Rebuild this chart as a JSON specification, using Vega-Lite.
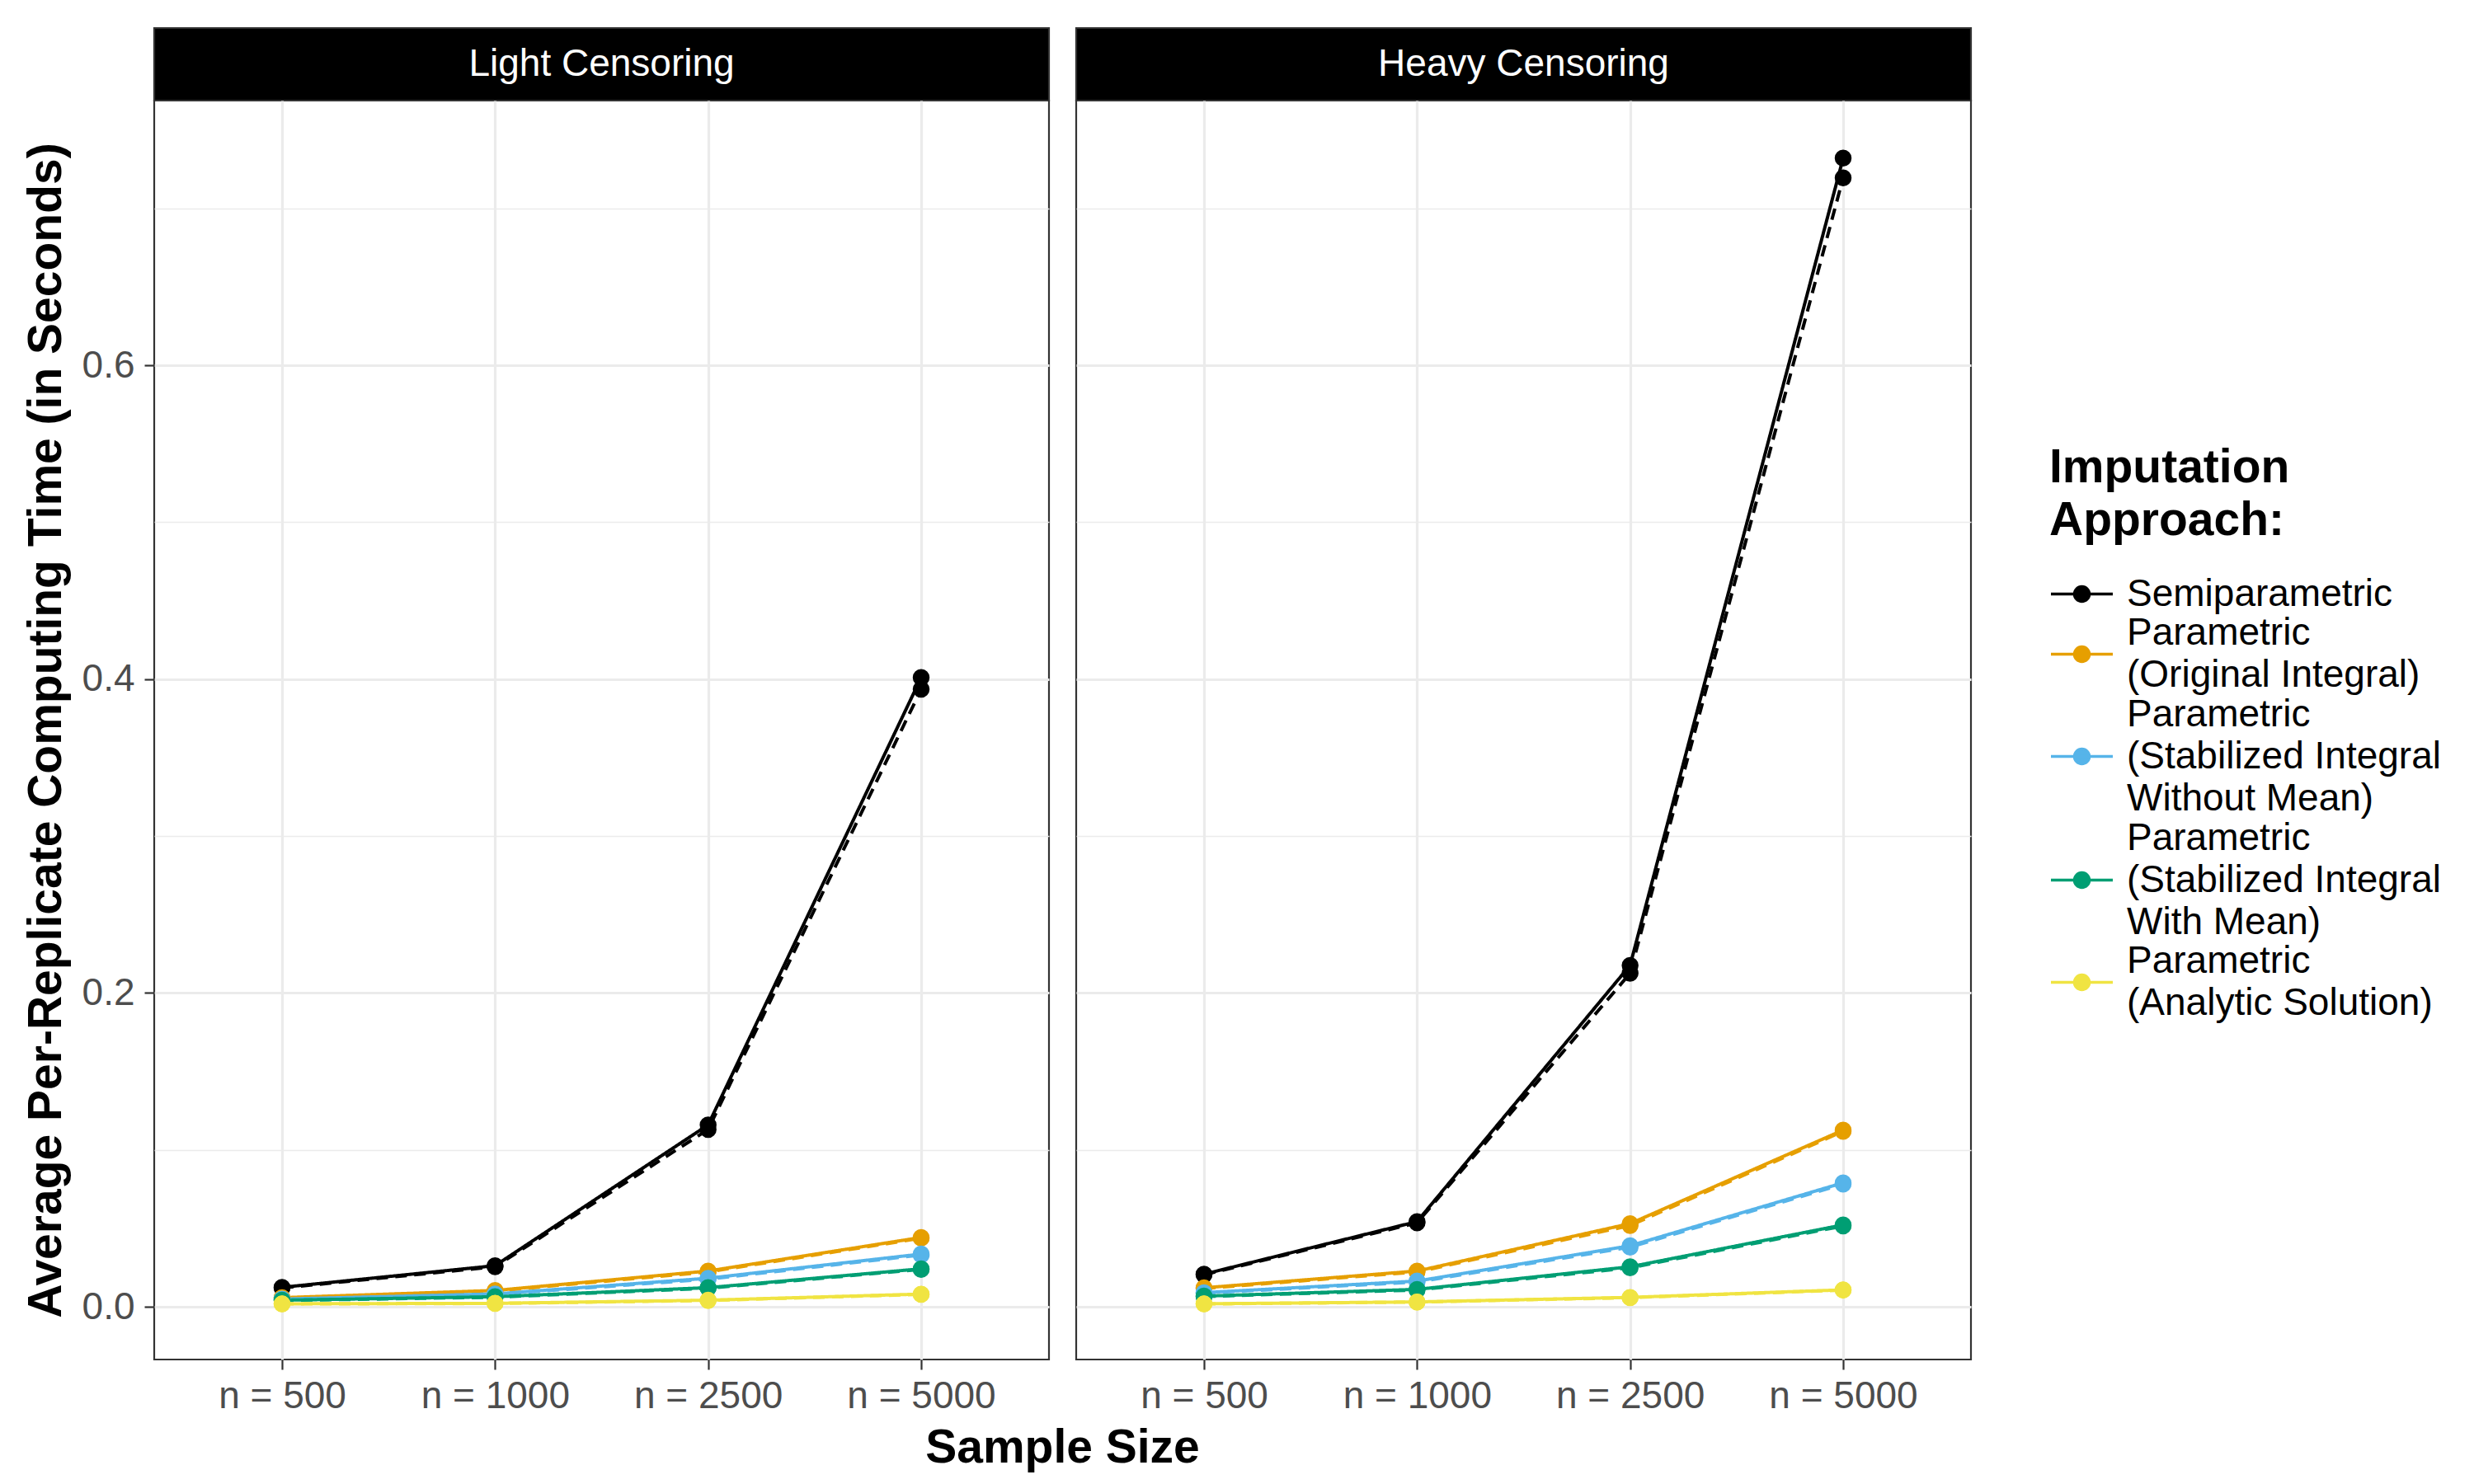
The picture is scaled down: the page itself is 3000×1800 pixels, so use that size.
{
  "$schema": "https://vega.github.io/schema/vega-lite/v6.json",
  "background": "white",
  "padding": {"left": 25, "top": 32, "right": 10, "bottom": 10},
  "datasets": {
    "times": [
      {"censoring": "Light Censoring", "approach": "Semiparametric", "run": "solid", "n": "n = 500", "time": 0.0124},
      {"censoring": "Light Censoring", "approach": "Semiparametric", "run": "solid", "n": "n = 1000", "time": 0.0262},
      {"censoring": "Light Censoring", "approach": "Semiparametric", "run": "solid", "n": "n = 2500", "time": 0.1159},
      {"censoring": "Light Censoring", "approach": "Semiparametric", "run": "solid", "n": "n = 5000", "time": 0.4010},
      {"censoring": "Light Censoring", "approach": "Semiparametric", "run": "dashed", "n": "n = 500", "time": 0.0120},
      {"censoring": "Light Censoring", "approach": "Semiparametric", "run": "dashed", "n": "n = 1000", "time": 0.0255},
      {"censoring": "Light Censoring", "approach": "Semiparametric", "run": "dashed", "n": "n = 2500", "time": 0.1130},
      {"censoring": "Light Censoring", "approach": "Semiparametric", "run": "dashed", "n": "n = 5000", "time": 0.3935},
      {"censoring": "Light Censoring", "approach": "Parametric\n(Original Integral)", "run": "solid", "n": "n = 500", "time": 0.0058},
      {"censoring": "Light Censoring", "approach": "Parametric\n(Original Integral)", "run": "solid", "n": "n = 1000", "time": 0.0104},
      {"censoring": "Light Censoring", "approach": "Parametric\n(Original Integral)", "run": "solid", "n": "n = 2500", "time": 0.0228},
      {"censoring": "Light Censoring", "approach": "Parametric\n(Original Integral)", "run": "solid", "n": "n = 5000", "time": 0.0442},
      {"censoring": "Light Censoring", "approach": "Parametric\n(Original Integral)", "run": "dashed", "n": "n = 500", "time": 0.0055},
      {"censoring": "Light Censoring", "approach": "Parametric\n(Original Integral)", "run": "dashed", "n": "n = 1000", "time": 0.0100},
      {"censoring": "Light Censoring", "approach": "Parametric\n(Original Integral)", "run": "dashed", "n": "n = 2500", "time": 0.0222},
      {"censoring": "Light Censoring", "approach": "Parametric\n(Original Integral)", "run": "dashed", "n": "n = 5000", "time": 0.0437},
      {"censoring": "Light Censoring", "approach": "Parametric\n(Stabilized Integral\nWithout Mean)", "run": "solid", "n": "n = 500", "time": 0.0049},
      {"censoring": "Light Censoring", "approach": "Parametric\n(Stabilized Integral\nWithout Mean)", "run": "solid", "n": "n = 1000", "time": 0.0082},
      {"censoring": "Light Censoring", "approach": "Parametric\n(Stabilized Integral\nWithout Mean)", "run": "solid", "n": "n = 2500", "time": 0.0182},
      {"censoring": "Light Censoring", "approach": "Parametric\n(Stabilized Integral\nWithout Mean)", "run": "solid", "n": "n = 5000", "time": 0.0336},
      {"censoring": "Light Censoring", "approach": "Parametric\n(Stabilized Integral\nWithout Mean)", "run": "dashed", "n": "n = 500", "time": 0.0047},
      {"censoring": "Light Censoring", "approach": "Parametric\n(Stabilized Integral\nWithout Mean)", "run": "dashed", "n": "n = 1000", "time": 0.0078},
      {"censoring": "Light Censoring", "approach": "Parametric\n(Stabilized Integral\nWithout Mean)", "run": "dashed", "n": "n = 2500", "time": 0.0176},
      {"censoring": "Light Censoring", "approach": "Parametric\n(Stabilized Integral\nWithout Mean)", "run": "dashed", "n": "n = 5000", "time": 0.0330},
      {"censoring": "Light Censoring", "approach": "Parametric\n(Stabilized Integral\n With Mean)", "run": "solid", "n": "n = 500", "time": 0.0042},
      {"censoring": "Light Censoring", "approach": "Parametric\n(Stabilized Integral\n With Mean)", "run": "solid", "n": "n = 1000", "time": 0.0064},
      {"censoring": "Light Censoring", "approach": "Parametric\n(Stabilized Integral\n With Mean)", "run": "solid", "n": "n = 2500", "time": 0.0122},
      {"censoring": "Light Censoring", "approach": "Parametric\n(Stabilized Integral\n With Mean)", "run": "solid", "n": "n = 5000", "time": 0.0242},
      {"censoring": "Light Censoring", "approach": "Parametric\n(Stabilized Integral\n With Mean)", "run": "dashed", "n": "n = 500", "time": 0.0040},
      {"censoring": "Light Censoring", "approach": "Parametric\n(Stabilized Integral\n With Mean)", "run": "dashed", "n": "n = 1000", "time": 0.0061},
      {"censoring": "Light Censoring", "approach": "Parametric\n(Stabilized Integral\n With Mean)", "run": "dashed", "n": "n = 2500", "time": 0.0118},
      {"censoring": "Light Censoring", "approach": "Parametric\n(Stabilized Integral\n With Mean)", "run": "dashed", "n": "n = 5000", "time": 0.0238},
      {"censoring": "Light Censoring", "approach": "Parametric\n(Analytic Solution)", "run": "solid", "n": "n = 500", "time": 0.0019},
      {"censoring": "Light Censoring", "approach": "Parametric\n(Analytic Solution)", "run": "solid", "n": "n = 1000", "time": 0.0022},
      {"censoring": "Light Censoring", "approach": "Parametric\n(Analytic Solution)", "run": "solid", "n": "n = 2500", "time": 0.0042},
      {"censoring": "Light Censoring", "approach": "Parametric\n(Analytic Solution)", "run": "solid", "n": "n = 5000", "time": 0.0081},
      {"censoring": "Light Censoring", "approach": "Parametric\n(Analytic Solution)", "run": "dashed", "n": "n = 500", "time": 0.0018},
      {"censoring": "Light Censoring", "approach": "Parametric\n(Analytic Solution)", "run": "dashed", "n": "n = 1000", "time": 0.0021},
      {"censoring": "Light Censoring", "approach": "Parametric\n(Analytic Solution)", "run": "dashed", "n": "n = 2500", "time": 0.0040},
      {"censoring": "Light Censoring", "approach": "Parametric\n(Analytic Solution)", "run": "dashed", "n": "n = 5000", "time": 0.0079},
      {"censoring": "Heavy Censoring", "approach": "Semiparametric", "run": "solid", "n": "n = 500", "time": 0.0208},
      {"censoring": "Heavy Censoring", "approach": "Semiparametric", "run": "solid", "n": "n = 1000", "time": 0.0543},
      {"censoring": "Heavy Censoring", "approach": "Semiparametric", "run": "solid", "n": "n = 2500", "time": 0.2176},
      {"censoring": "Heavy Censoring", "approach": "Semiparametric", "run": "solid", "n": "n = 5000", "time": 0.7320},
      {"censoring": "Heavy Censoring", "approach": "Semiparametric", "run": "dashed", "n": "n = 500", "time": 0.0204},
      {"censoring": "Heavy Censoring", "approach": "Semiparametric", "run": "dashed", "n": "n = 1000", "time": 0.0535},
      {"censoring": "Heavy Censoring", "approach": "Semiparametric", "run": "dashed", "n": "n = 2500", "time": 0.2125},
      {"censoring": "Heavy Censoring", "approach": "Semiparametric", "run": "dashed", "n": "n = 5000", "time": 0.7195},
      {"censoring": "Heavy Censoring", "approach": "Parametric\n(Original Integral)", "run": "solid", "n": "n = 500", "time": 0.0121},
      {"censoring": "Heavy Censoring", "approach": "Parametric\n(Original Integral)", "run": "solid", "n": "n = 1000", "time": 0.0228},
      {"censoring": "Heavy Censoring", "approach": "Parametric\n(Original Integral)", "run": "solid", "n": "n = 2500", "time": 0.0530},
      {"censoring": "Heavy Censoring", "approach": "Parametric\n(Original Integral)", "run": "solid", "n": "n = 5000", "time": 0.1126},
      {"censoring": "Heavy Censoring", "approach": "Parametric\n(Original Integral)", "run": "dashed", "n": "n = 500", "time": 0.0117},
      {"censoring": "Heavy Censoring", "approach": "Parametric\n(Original Integral)", "run": "dashed", "n": "n = 1000", "time": 0.0222},
      {"censoring": "Heavy Censoring", "approach": "Parametric\n(Original Integral)", "run": "dashed", "n": "n = 2500", "time": 0.0518},
      {"censoring": "Heavy Censoring", "approach": "Parametric\n(Original Integral)", "run": "dashed", "n": "n = 5000", "time": 0.1118},
      {"censoring": "Heavy Censoring", "approach": "Parametric\n(Stabilized Integral\nWithout Mean)", "run": "solid", "n": "n = 500", "time": 0.0090},
      {"censoring": "Heavy Censoring", "approach": "Parametric\n(Stabilized Integral\nWithout Mean)", "run": "solid", "n": "n = 1000", "time": 0.0164},
      {"censoring": "Heavy Censoring", "approach": "Parametric\n(Stabilized Integral\nWithout Mean)", "run": "solid", "n": "n = 2500", "time": 0.0389},
      {"censoring": "Heavy Censoring", "approach": "Parametric\n(Stabilized Integral\nWithout Mean)", "run": "solid", "n": "n = 5000", "time": 0.0790},
      {"censoring": "Heavy Censoring", "approach": "Parametric\n(Stabilized Integral\nWithout Mean)", "run": "dashed", "n": "n = 500", "time": 0.0087},
      {"censoring": "Heavy Censoring", "approach": "Parametric\n(Stabilized Integral\nWithout Mean)", "run": "dashed", "n": "n = 1000", "time": 0.0158},
      {"censoring": "Heavy Censoring", "approach": "Parametric\n(Stabilized Integral\nWithout Mean)", "run": "dashed", "n": "n = 2500", "time": 0.0380},
      {"censoring": "Heavy Censoring", "approach": "Parametric\n(Stabilized Integral\nWithout Mean)", "run": "dashed", "n": "n = 5000", "time": 0.0782},
      {"censoring": "Heavy Censoring", "approach": "Parametric\n(Stabilized Integral\n With Mean)", "run": "solid", "n": "n = 500", "time": 0.0068},
      {"censoring": "Heavy Censoring", "approach": "Parametric\n(Stabilized Integral\n With Mean)", "run": "solid", "n": "n = 1000", "time": 0.0111},
      {"censoring": "Heavy Censoring", "approach": "Parametric\n(Stabilized Integral\n With Mean)", "run": "solid", "n": "n = 2500", "time": 0.0255},
      {"censoring": "Heavy Censoring", "approach": "Parametric\n(Stabilized Integral\n With Mean)", "run": "solid", "n": "n = 5000", "time": 0.0522},
      {"censoring": "Heavy Censoring", "approach": "Parametric\n(Stabilized Integral\n With Mean)", "run": "dashed", "n": "n = 500", "time": 0.0065},
      {"censoring": "Heavy Censoring", "approach": "Parametric\n(Stabilized Integral\n With Mean)", "run": "dashed", "n": "n = 1000", "time": 0.0107},
      {"censoring": "Heavy Censoring", "approach": "Parametric\n(Stabilized Integral\n With Mean)", "run": "dashed", "n": "n = 2500", "time": 0.0248},
      {"censoring": "Heavy Censoring", "approach": "Parametric\n(Stabilized Integral\n With Mean)", "run": "dashed", "n": "n = 5000", "time": 0.0515},
      {"censoring": "Heavy Censoring", "approach": "Parametric\n(Analytic Solution)", "run": "solid", "n": "n = 500", "time": 0.0019},
      {"censoring": "Heavy Censoring", "approach": "Parametric\n(Analytic Solution)", "run": "solid", "n": "n = 1000", "time": 0.0031},
      {"censoring": "Heavy Censoring", "approach": "Parametric\n(Analytic Solution)", "run": "solid", "n": "n = 2500", "time": 0.0060},
      {"censoring": "Heavy Censoring", "approach": "Parametric\n(Analytic Solution)", "run": "solid", "n": "n = 5000", "time": 0.0108},
      {"censoring": "Heavy Censoring", "approach": "Parametric\n(Analytic Solution)", "run": "dashed", "n": "n = 500", "time": 0.0018},
      {"censoring": "Heavy Censoring", "approach": "Parametric\n(Analytic Solution)", "run": "dashed", "n": "n = 1000", "time": 0.0030},
      {"censoring": "Heavy Censoring", "approach": "Parametric\n(Analytic Solution)", "run": "dashed", "n": "n = 2500", "time": 0.0058},
      {"censoring": "Heavy Censoring", "approach": "Parametric\n(Analytic Solution)", "run": "dashed", "n": "n = 5000", "time": 0.0106}
    ]
  },
  "columns": 2,
  "spacing": {"row": 0, "column": 33},
  "bounds": "flush",
  "resolve": {"scale": {"color": "shared", "strokeDash": "shared"}, "legend": {"color": "shared"}},
  "concat": [
    {
      "data": {"values": [{"label": "Light Censoring"}]},
      "width": 1085,
      "height": 88,
      "view": {"fill": "#000000", "stroke": "#333333", "strokeWidth": 2.2},
      "mark": {"type": "text", "color": "#FFFFFF", "fontSize": 46},
      "encoding": {"text": {"field": "label"}}
    },
    {
      "data": {"values": [{"label": "Heavy Censoring"}]},
      "width": 1085,
      "height": 88,
      "view": {"fill": "#000000", "stroke": "#333333", "strokeWidth": 2.2},
      "mark": {"type": "text", "color": "#FFFFFF", "fontSize": 46},
      "encoding": {"text": {"field": "label"}}
    },
    {
      "data": {"name": "times"},
      "transform": [{"filter": "datum.censoring === 'Light Censoring'"}],
      "width": 1085,
      "height": 1527,
      "encoding": {
        "x": {"field": "n", "type": "ordinal", "sort": ["n = 500", "n = 1000", "n = 2500", "n = 5000"],
              "scale": {"type": "point", "padding": 0.6},
              "axis": {"title": "Sample Size", "titleX": 1101, "labelAngle": 0, "labelPadding": 10, "titlePadding": 12, "grid": true, "gridWidth": 3.2, "labelLimit": 500}},
        "y": {"field": "time", "type": "quantitative",
              "scale": {"domain": [-0.0336, 0.7687], "nice": false, "zero": false},
              "axis": {"title": "Average Per-Replicate Computing Time (in Seconds)", "titleLimit": 2000,
                       "values": [0, 0.1, 0.2, 0.3, 0.4, 0.5, 0.6, 0.7],
                       "labelExpr": "indexof([0, 0.2, 0.4, 0.6], datum.value) >= 0 ? format(datum.value, '.1f') : ''",
                       "gridWidth": {"condition": {"test": "indexof([0, 0.2, 0.4, 0.6], datum.value) >= 0", "value": 3.2}, "value": 1.6},
                       "tickOpacity": {"condition": {"test": "indexof([0, 0.2, 0.4, 0.6], datum.value) >= 0", "value": 1}, "value": 0},
                       "labelPadding": 12, "titlePadding": 14}},
        "color": {"field": "approach", "type": "nominal",
                  "scale": {"domain": ["Semiparametric", "Parametric\n(Original Integral)", "Parametric\n(Stabilized Integral\nWithout Mean)", "Parametric\n(Stabilized Integral\n With Mean)", "Parametric\n(Analytic Solution)"],
                            "range": ["#000000", "#E69F00", "#56B4E9", "#009E73", "#F0E442"]},
                  "legend": {"orient": "none", "legendX": 2298, "legendY": 506,
                             "title": ["Imputation", "Approach:"], "titleLimit": 1000,
                             "labelExpr": "split(datum.label, '\\n')", "labelLimit": 1000,
                             "symbolType": "M-1,0L1,0M0.24,0A0.24,0.24,0,1,1,-0.24,0A0.24,0.24,0,1,1,0.24,0Z",
                             "symbolSize": 5625, "symbolStrokeWidth": 3.5, "labelOffset": 15, "rowPadding": 1,
                             "encode": {
                               "labels": {"update": {"lineHeight": {"value": 51}, "dy": {"signal": "-(length(split(datum.label, '\\n')) - 1) * 25.5"}}},
                               "symbols": {"update": {"size": {"value": 5625}, "fill": {"scale": "color", "field": "value"}, "stroke": {"scale": "color", "field": "value"}, "strokeWidth": {"value": 3.5}, "opacity": {"value": 1}}}
                             }}}
      },
      "layer": [
        {"mark": {"type": "line", "strokeWidth": 4},
         "encoding": {"strokeDash": {"field": "run", "type": "nominal", "scale": {"domain": ["solid", "dashed"], "range": [[1, 0], [14, 9]]}, "legend": null}}},
        {"mark": {"type": "point", "filled": true, "size": 420, "opacity": 1},
         "encoding": {"detail": {"field": "run"}}}
      ]
    },
    {
      "data": {"name": "times"},
      "transform": [{"filter": "datum.censoring === 'Heavy Censoring'"}],
      "width": 1085,
      "height": 1527,
      "encoding": {
        "x": {"field": "n", "type": "ordinal", "sort": ["n = 500", "n = 1000", "n = 2500", "n = 5000"],
              "scale": {"type": "point", "padding": 0.6},
              "axis": {"title": null, "labelAngle": 0, "labelPadding": 10, "grid": true, "gridWidth": 3.2, "labelLimit": 500}},
        "y": {"field": "time", "type": "quantitative",
              "scale": {"domain": [-0.0336, 0.7687], "nice": false, "zero": false},
              "axis": {"title": null, "labels": false, "ticks": false,
                       "values": [0, 0.1, 0.2, 0.3, 0.4, 0.5, 0.6, 0.7],
                       "gridWidth": {"condition": {"test": "indexof([0, 0.2, 0.4, 0.6], datum.value) >= 0", "value": 3.2}, "value": 1.6}}},
        "color": {"field": "approach", "type": "nominal",
                  "scale": {"domain": ["Semiparametric", "Parametric\n(Original Integral)", "Parametric\n(Stabilized Integral\nWithout Mean)", "Parametric\n(Stabilized Integral\n With Mean)", "Parametric\n(Analytic Solution)"],
                            "range": ["#000000", "#E69F00", "#56B4E9", "#009E73", "#F0E442"]}}
      },
      "layer": [
        {"mark": {"type": "line", "strokeWidth": 4},
         "encoding": {"strokeDash": {"field": "run", "type": "nominal", "scale": {"domain": ["solid", "dashed"], "range": [[1, 0], [14, 9]]}, "legend": null}}},
        {"mark": {"type": "point", "filled": true, "size": 420, "opacity": 1},
         "encoding": {"detail": {"field": "run"}}}
      ]
    }
  ],
  "config": {
    "font": "Liberation Sans",
    "view": {"stroke": "#333333", "strokeWidth": 2.2},
    "axis": {"labelFontSize": 46, "labelColor": "#4D4D4D", "titleFontSize": 57, "titleFontWeight": "bold", "titleColor": "#000000",
             "gridColor": "#EBEBEB", "tickColor": "#333333", "tickSize": 12, "tickWidth": 2.2, "domain": false},
    "legend": {
      "titleFontSize": 57, "titleFontWeight": "bold", "titleColor": "#000000", "titleLineHeight": 64, "titlePadding": 20,
      "labelFontSize": 46, "labelColor": "#000000",
      "padding": 0
    }
  }
}
